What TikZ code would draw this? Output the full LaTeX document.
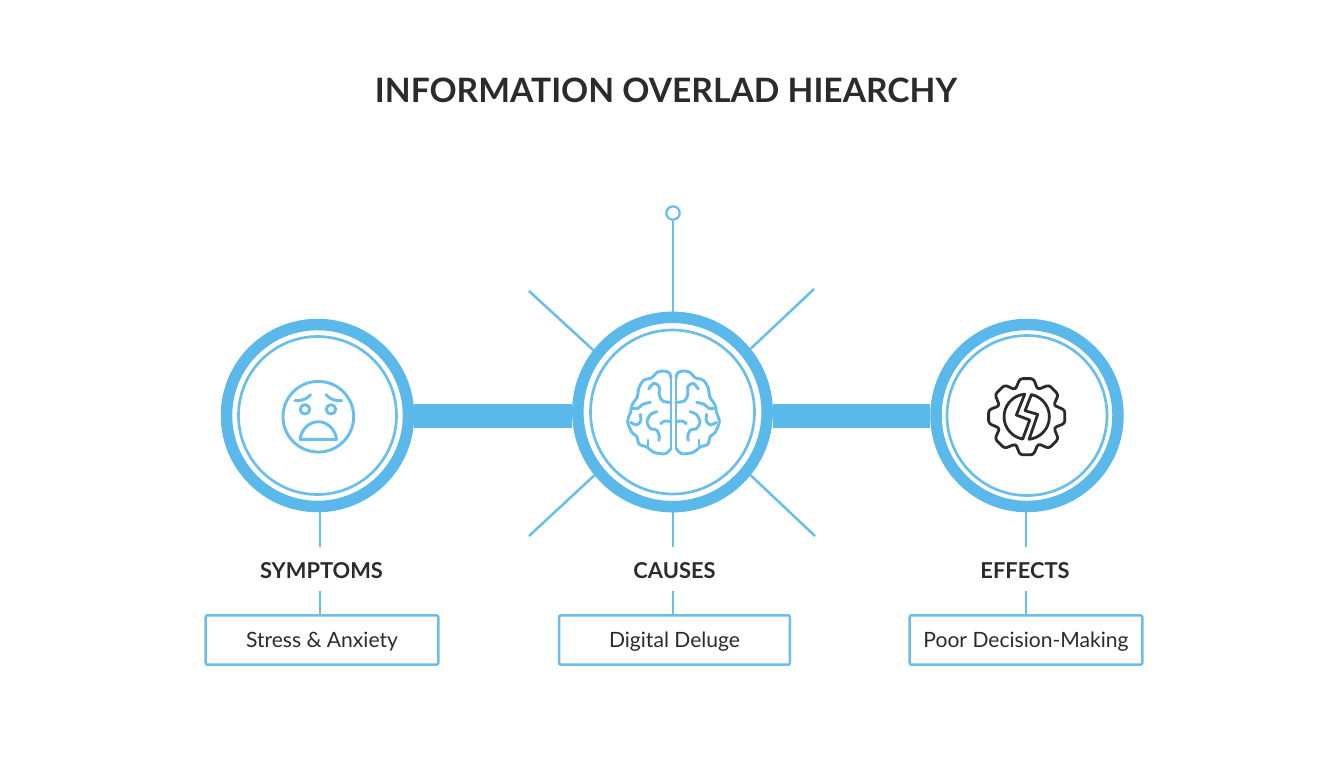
\documentclass[tikz,border=0pt]{standalone}
\usepackage{fontspec}
\setmainfont{Lato}
\definecolor{sky}{HTML}{5BB8EA}
\definecolor{skyline}{HTML}{69BEEB}
\definecolor{ink}{HTML}{2B2B2D}
\tikzset{
  ring/.style={circle,draw=sky,line width=8.6pt,fill=white,inner sep=0pt},
  bar/.style={draw=sky,line width=18pt},
  thin link/.style={draw=skyline,line width=1.9pt},
  head/.style={font=\fontsize{16.4pt}{18pt}\selectfont\bfseries,text=ink,inner sep=0pt},
  title text/.style={font=\fontsize{25.2pt}{28pt}\selectfont\bfseries,text=ink,inner sep=0pt},
  tagbox/.style={draw=skyline,line width=1.9pt,fill=white,rounded corners=1pt,minimum width=174.5pt,minimum height=37pt,inner sep=0pt,font=\fontsize{15.8pt}{18pt}\selectfont,text=ink,text depth=0pt,text height=11pt},
  icon/.style={draw=skyline,line width=2.2pt,line join=round,line cap=round},
  gearicon/.style={draw=ink,line width=2.1pt,line join=round,line cap=round},
}
\newcommand{\brainhalf}{%
  \draw[icon] (147,40) -- (147,250);
  \draw[icon] plot[smooth] coordinates {(147,40)(143,25)(128,18)(105,22)(90,38)(65,46)(50,70)(46,95)(30,120)(26,140)(17,170)(30,203)(44,214)(52,238)(75,246)(95,262)(130,266)(147,250)};
  \draw[icon] plot[smooth] coordinates {(80,72)(95,55)(111,64)(112,90)(122,108)(147,112)};
  \draw[icon] plot[smooth] coordinates {(28,130)(48,130)(62,118)(85,112)};
  \draw[icon] plot[smooth] coordinates {(26,172)(44,180)(56,168)(55,148)};
  \draw[icon] plot[smooth] coordinates {(105,140)(86,148)(75,170)(85,190)(105,196)(112,215)(110,226)};
  \draw[icon] plot[smooth] coordinates {(147,170)(128,168)(116,176)};
  \draw[icon] (78,225) -- (78,242);
}
\begin{document}
\begin{tikzpicture}[x=.75pt,y=-.75pt]
\useasboundingbox (0,0) rectangle (1344,768);
\node[title text] (title) at (666,90) {INFORMATION OVERLAD HIEARCHY};

% main rings
\node[ring,minimum size=136.5pt] (cl) at (317.5,415.5) {};
\node[ring,minimum size=142pt] (cc) at (672.5,412) {};
\node[ring,minimum size=136.5pt] (cr) at (1027,415.5) {};

% bars between rings
\coordinate (barl) at (400,416);
\draw[bar] (cl.east |- barl) -- (cc.west |- barl);
\draw[bar] (cc.east |- barl) -- (cr.west |- barl);

% inner rings
\draw[skyline,line width=2pt] (cl.center) circle[radius=79];
\draw[skyline,line width=2pt] (cc.center) circle[radius=82];
\draw[skyline,line width=2pt] (cr.center) circle[radius=80];

% pin and rays
\node[circle,draw=skyline,line width=1.7pt,fill=white,minimum size=10pt,inner sep=0pt] (pin) at (673,213) {};
\draw[thin link] (pin.south) -- (pin.south |- cc.north);
\coordinate (d1) at (529,291);
\coordinate (d2) at (814,289);
\coordinate (d3) at (529,536);
\coordinate (d4) at (815,536);
\draw[thin link] (d1) -- (cc.142);
\draw[thin link] (d2) -- (cc.39);
\draw[thin link] (d3) -- (cc.219);
\draw[thin link] (d4) -- (cc.321);

% labels
\node[head] (lab1) at (321.5,570.5) {SYMPTOMS};
\node[head] (lab2) at (674.5,570.5) {CAUSES};
\node[head] (lab3) at (1025,570.5) {EFFECTS};
\node[tagbox] (box1) at (322,640) {Stress \& Anxiety};
\node[tagbox,minimum width=173.2pt] (box2) at (674.5,640) {Digital Deluge};
\node[tagbox] (box3) at (1026,640) {Poor Decision-Making};

\coordinate (s1) at (320,547);
\coordinate (s2) at (673,547);
\coordinate (s3) at (1026,547);
\draw[thin link] (s1) -- (s1 |- cl.south);
\draw[thin link] (s2) -- (s2 |- cc.south);
\draw[thin link] (s3) -- (s3 |- cr.south);
\coordinate (t1) at (320,591);
\coordinate (t2) at (673,591);
\coordinate (t3) at (1026,591);
\draw[thin link] (t1) -- (t1 |- box1.north);
\draw[thin link] (t2) -- (t2 |- box2.north);
\draw[thin link] (t3) -- (t3 |- box3.north);

% face icon
\begin{scope}[shift={(318.3,416.7)},x=.25pt,y=.25pt]
  \draw[icon] (0,0) circle[radius=106];
  \draw[icon] (-70,48) .. controls (-42,47) and (-32,57) .. (-23,66);
  \draw[icon] (70,48) .. controls (42,47) and (32,57) .. (23,66);
  \draw[icon] (-40,22) circle[radius=14];
  \draw[icon] (38,22) circle[radius=14];
  \draw[icon] (-55,-68) -- (55,-68) .. controls (50,-35) and (25,-15) .. (0,-15) .. controls (-25,-15) and (-50,-35) .. (-55,-68) -- cycle;
\end{scope}

% brain icon
\begin{scope}[shift={(622,365)},x=.25pt,y=-.25pt]
  \brainhalf
\end{scope}
\begin{scope}[shift={(725,365)},x=-.25pt,y=-.25pt]
  \brainhalf
\end{scope}

% gear icon
\begin{scope}[shift={(1026.7,416.7)},x=.25pt,y=.25pt]
  \draw[gearicon,rounded corners=2pt]
    (80:116) -- (100:116)
    \foreach \a in {1,...,7} { -- ({45*\a+90-22}:88) -- ({45*\a+90-10}:116) -- ({45*\a+90+10}:116) }
    -- ({90-22}:88) -- cycle;
  \draw[gearicon] (95:68) arc[start angle=95,end angle=260,radius=68] -- (9,-10) -- (-31,5) -- cycle;
  \draw[gearicon] (78:68) arc[start angle=78,end angle=-84,radius=68] -- (33,7) -- (-5,18) -- cycle;
\end{scope}
\end{tikzpicture}
\end{document}
